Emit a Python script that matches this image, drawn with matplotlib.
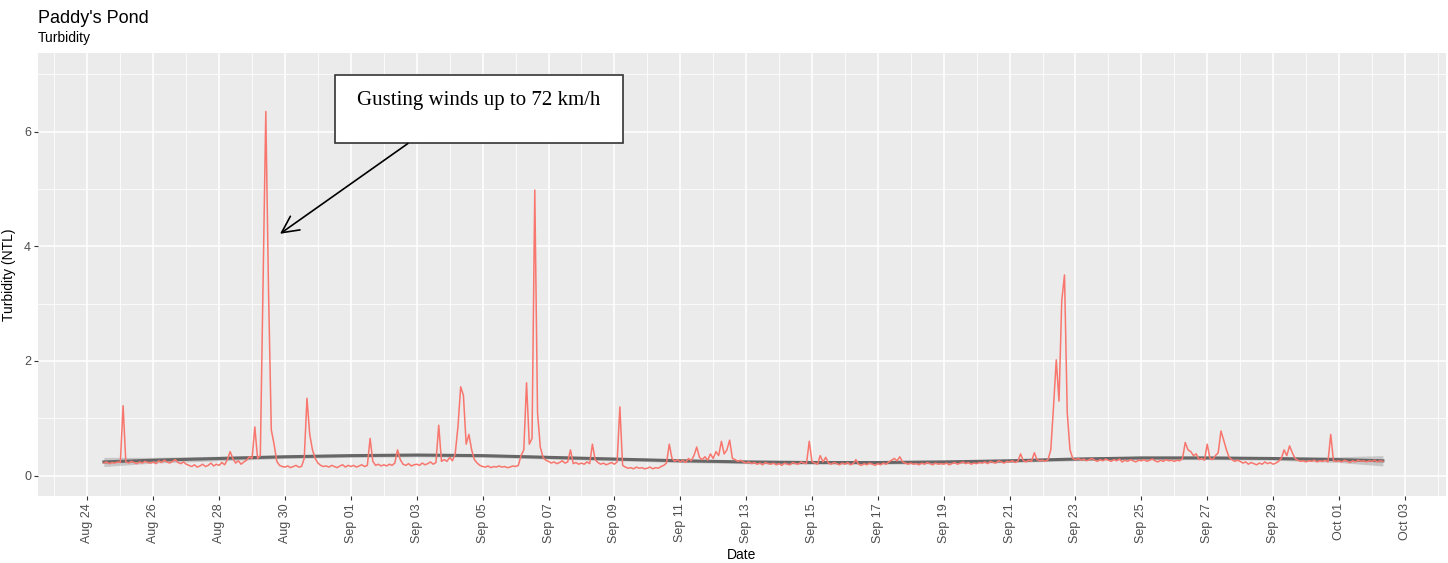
import numpy as np
import pandas as pd
import matplotlib
matplotlib.use("Agg")
import matplotlib.pyplot as plt
import matplotlib.dates as mdates
from matplotlib.patches import Rectangle

# turbidity readings every 2 h, starting 2019-08-24 12:00
start_time = "2019-08-24 12:00"
turbidity = [
    0.22, 0.24, 0.21, 0.23, 0.22, 0.24,                                # Aug 24 (12h-22h)
    0.23, 1.22, 0.24, 0.22, 0.25, 0.23, 0.21, 0.24, 0.22, 0.25, 0.23, 0.22,  # Aug 25
    0.24, 0.21, 0.26, 0.23, 0.27, 0.24, 0.22, 0.25, 0.28, 0.23, 0.21, 0.24,  # Aug 26
    0.20, 0.18, 0.16, 0.19, 0.15, 0.17, 0.20, 0.16, 0.18, 0.22, 0.17, 0.20,  # Aug 27
    0.18, 0.23, 0.19, 0.28, 0.42, 0.30, 0.22, 0.26, 0.20, 0.24, 0.27, 0.33,  # Aug 28
    0.30, 0.85, 0.30, 0.35, 3.30, 6.35, 3.20, 0.80, 0.55, 0.25, 0.18, 0.16,  # Aug 29
    0.15, 0.17, 0.14, 0.16, 0.18, 0.15, 0.16, 0.30, 1.35, 0.72, 0.45, 0.30,  # Aug 30
    0.22, 0.18, 0.16, 0.17, 0.15, 0.18, 0.16, 0.14, 0.17, 0.19, 0.15, 0.18,  # Aug 31
    0.16, 0.18, 0.15, 0.17, 0.19, 0.16, 0.18, 0.65, 0.25, 0.18, 0.20, 0.17,  # Sep 01
    0.19, 0.17, 0.20, 0.18, 0.22, 0.45, 0.28, 0.20, 0.18, 0.21, 0.17, 0.19,  # Sep 02
    0.20, 0.18, 0.22, 0.19, 0.21, 0.24, 0.20, 0.23, 0.88, 0.25, 0.28, 0.25,  # Sep 03
    0.32, 0.26, 0.38, 0.85, 1.55, 1.40, 0.55, 0.72, 0.45, 0.28, 0.22, 0.18,  # Sep 04
    0.16, 0.15, 0.17, 0.14, 0.16, 0.15, 0.17, 0.15, 0.16, 0.14, 0.15, 0.17,  # Sep 05
    0.16, 0.18, 0.35, 0.45, 1.62, 0.55, 0.65, 4.98, 1.10, 0.50, 0.32, 0.27,  # Sep 06
    0.25, 0.22, 0.24, 0.21, 0.23, 0.26, 0.22, 0.24, 0.45, 0.21, 0.23, 0.20,  # Sep 07
    0.22, 0.20, 0.24, 0.21, 0.55, 0.28, 0.23, 0.20, 0.22, 0.19, 0.21, 0.23,  # Sep 08
    0.20, 0.24, 1.20, 0.18, 0.15, 0.13, 0.14, 0.12, 0.15, 0.13, 0.14, 0.12,  # Sep 09
    0.13, 0.15, 0.12, 0.14, 0.13, 0.16, 0.18, 0.22, 0.55, 0.30, 0.25, 0.28,  # Sep 10
    0.24, 0.27, 0.23, 0.30, 0.26, 0.35, 0.50, 0.32, 0.28, 0.33, 0.27, 0.38,  # Sep 11
    0.30, 0.42, 0.35, 0.60, 0.38, 0.45, 0.62, 0.30, 0.28, 0.25, 0.27, 0.24,  # Sep 12
    0.22, 0.24, 0.21, 0.23, 0.20, 0.22, 0.19, 0.23, 0.21, 0.20, 0.22, 0.19,  # Sep 13
    0.21, 0.18, 0.22, 0.20, 0.19, 0.23, 0.21, 0.20, 0.24, 0.22, 0.21, 0.60,  # Sep 14
    0.24, 0.22, 0.20, 0.35, 0.24, 0.32, 0.22, 0.20, 0.23, 0.21, 0.19, 0.22,  # Sep 15
    0.20, 0.23, 0.19, 0.21, 0.28, 0.20, 0.18, 0.21, 0.19, 0.22, 0.20, 0.18,  # Sep 16
    0.21, 0.19, 0.22, 0.20, 0.24, 0.27, 0.30, 0.26, 0.33, 0.24, 0.22, 0.20,  # Sep 17
    0.22, 0.20, 0.21, 0.19, 0.22, 0.20, 0.23, 0.21, 0.19, 0.22, 0.20, 0.21,  # Sep 18
    0.20, 0.22, 0.19, 0.21, 0.23, 0.20, 0.22, 0.24, 0.21, 0.23, 0.20, 0.22,  # Sep 19
    0.21, 0.23, 0.22, 0.24, 0.21, 0.25, 0.23, 0.22, 0.26, 0.24, 0.22, 0.25,  # Sep 20
    0.24, 0.26, 0.23, 0.25, 0.38, 0.26, 0.24, 0.27, 0.25, 0.40, 0.28, 0.26,  # Sep 21
    0.27, 0.25, 0.28, 0.45, 1.20, 2.02, 1.30, 3.05, 3.50, 1.10, 0.45, 0.30,  # Sep 22
    0.28, 0.30, 0.27, 0.29, 0.26, 0.28, 0.30, 0.27, 0.25, 0.28, 0.26, 0.29,  # Sep 23
    0.27, 0.25, 0.28, 0.26, 0.29, 0.24, 0.27, 0.25, 0.28, 0.26, 0.24, 0.27,  # Sep 24
    0.26, 0.28, 0.25, 0.27, 0.29, 0.26, 0.24, 0.27, 0.25, 0.28, 0.26, 0.27,  # Sep 25
    0.25, 0.27, 0.26, 0.30, 0.58, 0.45, 0.42, 0.35, 0.38, 0.28, 0.30, 0.27,  # Sep 26
    0.55, 0.30, 0.28, 0.35, 0.40, 0.78, 0.62, 0.45, 0.32, 0.28, 0.25, 0.27,  # Sep 27
    0.25, 0.22, 0.24, 0.20, 0.23, 0.21, 0.19, 0.22, 0.20, 0.24, 0.21, 0.23,  # Sep 28
    0.20, 0.22, 0.25, 0.30, 0.45, 0.35, 0.52, 0.40, 0.30, 0.27, 0.25, 0.26,  # Sep 29
    0.24, 0.26, 0.25, 0.27, 0.24, 0.26, 0.25, 0.27, 0.24, 0.72, 0.26, 0.25,  # Sep 30
    0.26, 0.24, 0.27, 0.25, 0.23, 0.26, 0.24, 0.27, 0.25, 0.26, 0.24, 0.26,  # Oct 01
    0.25, 0.27, 0.24, 0.26, 0.25,                                      # Oct 02 (0h-8h)
]

# loess trend and its standard-error band
smooth_dates = ["2019-08-24 12:00", "2019-08-26 00:00", "2019-08-28 00:00",
                "2019-08-30 00:00", "2019-09-01 00:00", "2019-09-03 00:00",
                "2019-09-05 00:00", "2019-09-07 00:00", "2019-09-09 00:00",
                "2019-09-11 00:00", "2019-09-13 00:00", "2019-09-15 00:00",
                "2019-09-17 00:00", "2019-09-19 00:00", "2019-09-21 00:00",
                "2019-09-23 00:00", "2019-09-25 00:00", "2019-09-27 00:00",
                "2019-09-29 00:00", "2019-10-01 00:00", "2019-10-02 08:00"]
smooth_fit = [0.24, 0.27, 0.30, 0.33, 0.35, 0.36, 0.35, 0.32, 0.29, 0.26, 0.24,
              0.23, 0.23, 0.24, 0.26, 0.29, 0.31, 0.31, 0.30, 0.28, 0.26]
smooth_se = [0.08, 0.05, 0.04, 0.03, 0.03, 0.03, 0.03, 0.03, 0.03, 0.03, 0.03,
             0.03, 0.03, 0.03, 0.03, 0.03, 0.03, 0.03, 0.03, 0.05, 0.09]

tick_dates = ["2019-08-24", "2019-08-26", "2019-08-28", "2019-08-30", "2019-09-01",
              "2019-09-03", "2019-09-05", "2019-09-07", "2019-09-09", "2019-09-11",
              "2019-09-13", "2019-09-15", "2019-09-17", "2019-09-19", "2019-09-21",
              "2019-09-23", "2019-09-25", "2019-09-27", "2019-09-29", "2019-10-01",
              "2019-10-03"]
tick_labels = ["Aug 24", "Aug 26", "Aug 28", "Aug 30", "Sep 01", "Sep 03", "Sep 05",
               "Sep 07", "Sep 09", "Sep 11", "Sep 13", "Sep 15", "Sep 17", "Sep 19",
               "Sep 21", "Sep 23", "Sep 25", "Sep 27", "Sep 29", "Oct 01", "Oct 03"]

note_text = "Gusting winds up to 72 km/h"

plt.rcParams['font.family'] = ['Liberation Sans', 'DejaVu Sans']

times = pd.date_range(start_time, periods=len(turbidity), freq="2h")
s_times = pd.to_datetime(smooth_dates, format="%Y-%m-%d %H:%M")
s_fit = np.array(smooth_fit)
s_se = np.array(smooth_se)

W, H = 1448, 563
fig = plt.figure(figsize=(W / 100, H / 100), dpi=100)
ax = fig.add_axes([38 / W, (H - 496) / H, (1446 - 38) / W, (496 - 53) / H])

ax.set_facecolor('#EBEBEB')
for sp in ax.spines.values():
    sp.set_visible(False)

ax.fill_between(s_times, s_fit - s_se, s_fit + s_se, color='#9A9A9A', alpha=0.45, lw=0, zorder=3)
ax.plot(s_times, s_fit, color='#666666', lw=2.2, zorder=4)
ax.plot(times, turbidity, color='#F8766D', lw=1.1, zorder=5)

ax.set_xlim(pd.Timestamp("2019-08-22 12:00"), pd.Timestamp("2019-10-04 06:00"))
ax.set_ylim(-0.354, 7.37)

ax.set_xticks(pd.to_datetime(tick_dates, format="%Y-%m-%d"))
ax.set_xticklabels(tick_labels, rotation=90)
ax.xaxis.set_minor_locator(mdates.DayLocator())
ax.set_yticks([0, 2, 4, 6])
ax.set_yticklabels(["0", "2", "4", "6"])
ax.set_yticks([1, 3, 5, 7], minor=True)

ax.grid(which='major', color='white', lw=1.1)
ax.grid(which='minor', color='white', lw=0.55)
ax.set_axisbelow(True)
ax.tick_params(which='major', length=3, width=0.8, color='#333333',
               labelcolor='#4D4D4D', labelsize=9, pad=2)
ax.tick_params(which='minor', length=0)

ax.set_xlabel("Date", fontsize=10, labelpad=4)
ax.set_ylabel("Turbidity (NTL)", fontsize=10, labelpad=6)

fig.text(38 / W, 1 - 23 / H, "Paddy's Pond", fontsize=13, va='baseline', ha='left')
fig.text(38 / W, 1 - 42 / H, "Turbidity", fontsize=10, va='baseline', ha='left')

# annotation box and arrow
day = pd.Timedelta(days=1)
base = pd.Timestamp("2019-08-24")
box_x0 = mdates.date2num(base + 7.52 * day)
box_x1 = mdates.date2num(base + 16.26 * day)
ax.add_patch(Rectangle((box_x0, 5.80), box_x1 - box_x0, 1.19, facecolor='white',
                       edgecolor='#333333', lw=1.2, zorder=6))
ax.text(base + 11.89 * day, 6.55, note_text, family='Liberation Serif', fontsize=15,
        ha='center', va='center', zorder=7)
ax.annotate('', xy=(base + 5.78 * day, 4.19), xytext=(base + 9.80 * day, 5.82),
            arrowprops=dict(arrowstyle='->,head_length=0.6,head_width=0.3',
                            color='black', lw=1.2, mutation_scale=20), zorder=7)

fig.savefig("out.png", dpi=100)
